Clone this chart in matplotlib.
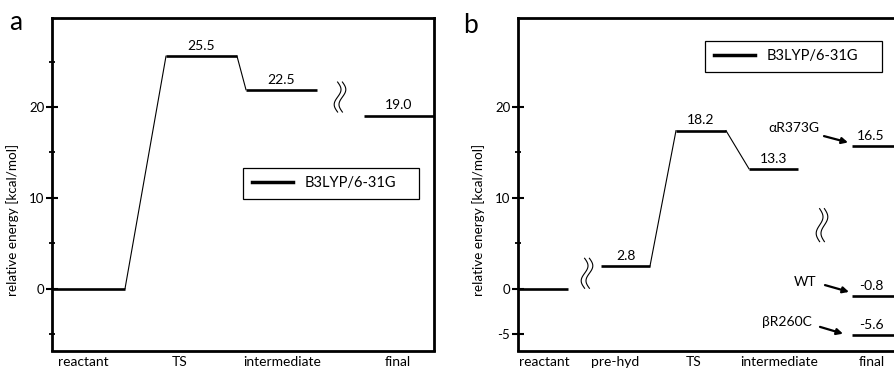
import matplotlib
matplotlib.use('Agg')
import matplotlib.pyplot as plt
import matplotlib.transforms as mtransforms
from matplotlib.lines import Line2D
import numpy as np

plt.rcParams['font.family'] = ['Lato', 'DejaVu Sans']

# ---- data ----
method = 'B3LYP/6-31G'
ylabel = 'relative energy [kcal/mol]'

# panel a
states_a = ['reactant', 'TS', 'intermediate', 'final']
energy_a = [0.0, 25.6, 21.9, 19.05]      # level heights as drawn
values_a = ['', '25.5', '22.5', '19.0']  # printed values

# panel b
states_b = ['reactant', 'pre-hyd', 'TS', 'intermediate']
energy_b = [0.0, 2.5, 17.4, 13.2]
values_b = ['', '2.8', '18.2', '13.3']
final_label = 'final'
mutants = ['\u03b1R373G', 'WT', '\u03b2R260C']
energy_final = [15.7, -0.83, -5.1]
values_final = ['16.5', '-0.8', '-5.6']

# ---- layout (x in pixels from left spine) ----
W, H = 894, 370
fig = plt.figure(figsize=(W / 100, H / 100), dpi=100)
ax_a = fig.add_axes([52 / W, 1 - 350.5 / H, 382 / W, 332.5 / H])
ax_b = fig.add_axes([518 / W, 1 - 350.5 / H, 378 / W, 332.5 / H])

span_a = [(0, 73), (114, 185), (194, 265), (312, 382)]
tick_a = [31, 128, 230, 346]
span_b = [(0, 50), (83, 132), (158, 208), (231, 280)]
span_final = (334, 378)
tick_b = [26, 97, 176, 261, 354]

lw_level = 1.9
lw_link = 0.8


def draw_break(ax, x, y, h):
    # small wavy "axis break" mark, size in pixels
    t = np.linspace(-0.5, 0.5, 80)
    tr = fig.dpi_scale_trans + mtransforms.ScaledTranslation(x, y, ax.transData)
    for dx in (-2.4, 2.4):
        ax.plot((dx + 3.4 * np.sin(2 * np.pi * t)) / 100, t * h / 100,
                transform=tr, color='k', lw=0.8, clip_on=False)


def draw_levels(ax, spans, energies, values, links):
    for (x0, x1), e, v in zip(spans, energies, values):
        ax.plot([x0, x1], [e, e], color='k', lw=lw_level, solid_capstyle='butt')
        if v:
            ax.annotate(v, ((x0 + x1) / 2, e), xytext=(0, 3), textcoords='offset points',
                        ha='center', va='bottom', fontsize=10)
    for i, j in links:
        ax.plot([spans[i][1], spans[j][0]], [energies[i], energies[j]], color='k', lw=lw_link)


def style_axis(ax, width, major, minor, states, ticks):
    ax.set_xlim(0, width)
    ax.set_ylim(-6.8, 29.8)
    ax.set_yticks(major)
    ax.set_yticks(minor, minor=True)
    ax.set_yticklabels([str(m) for m in major])
    ax.tick_params(axis='y', which='major', direction='inout', length=8, width=1.5,
                   labelsize=9.5, pad=1.5)
    ax.tick_params(axis='y', which='minor', direction='inout', length=4.5, width=1.3)
    ax.set_xticks(ticks)
    ax.set_xticklabels(states, fontsize=10)
    ax.tick_params(axis='x', length=0, pad=4)
    for s in ax.spines.values():
        s.set_linewidth(2.0)
    ax.set_ylabel(ylabel, fontsize=9.7)
    ax.yaxis.set_label_coords(-33 / width, 0.392)


# panel a
draw_levels(ax_a, span_a, energy_a, values_a, [(0, 1), (1, 2)])
draw_break(ax_a, 288, 21.1, 30)
style_axis(ax_a, 382, [0, 10, 20], [-5, 5, 15, 25], states_a, tick_a)

# panel b
draw_levels(ax_b, span_b, energy_b, values_b, [(1, 2), (2, 3)])
for e, v in zip(energy_final, values_final):
    ax_b.plot(span_final, [e, e], color='k', lw=lw_level, solid_capstyle='butt')
    ax_b.annotate(v, (sum(span_final) / 2 - 3, e), xytext=(0, 3), textcoords='offset points',
                  ha='center', va='bottom', fontsize=10)
draw_break(ax_b, 69, 1.7, 30)
draw_break(ax_b, 304, 7.0, 33)
style_axis(ax_b, 378, [-5, 0, 10, 20], [5, 15], states_b + [final_label], tick_b)

# mutant labels with arrows
label_xy = [(276, 17.7), (287, 0.7), (269, -3.7)]
arrow_tail = [(306, 16.8), (307, 0.4), (302, -4.2)]
arrow_head = [(330, 16.1), (331, -0.35), (325, -4.95)]
for m, (tx, ty), tail, head in zip(mutants, label_xy, arrow_tail, arrow_head):
    ax_b.text(tx, ty, m, ha='center', va='center', fontsize=10)
    ax_b.annotate('', xy=head, xytext=tail,
                  arrowprops=dict(arrowstyle='-|>', color='k', lw=1.6,
                                  mutation_scale=9, shrinkA=0, shrinkB=0))

# legends
handle = [Line2D([], [], color='k', lw=2.5)]
for ax, (x0, y0, w), width in [(ax_a, (191, 168, 176), 382), (ax_b, (187, 41, 177), 378)]:
    leg = ax.legend(handle, [method], loc='upper left',
                    bbox_to_anchor=(x0 / width, (350.5 - y0) / 332.5, w / width, 0.001),
                    mode='expand', fancybox=False, framealpha=1, edgecolor='k',
                    borderaxespad=0, borderpad=0.6, handlelength=2.8, handletextpad=0.8,
                    fontsize=10.5)
    leg.get_frame().set_linewidth(0.9)

fig.text(9 / W, 1 - 30 / H, 'a', fontsize=19, va='baseline')
fig.text(463 / W, 1 - 33 / H, 'b', fontsize=19, va='baseline')

fig.savefig('out.png', dpi=100)
